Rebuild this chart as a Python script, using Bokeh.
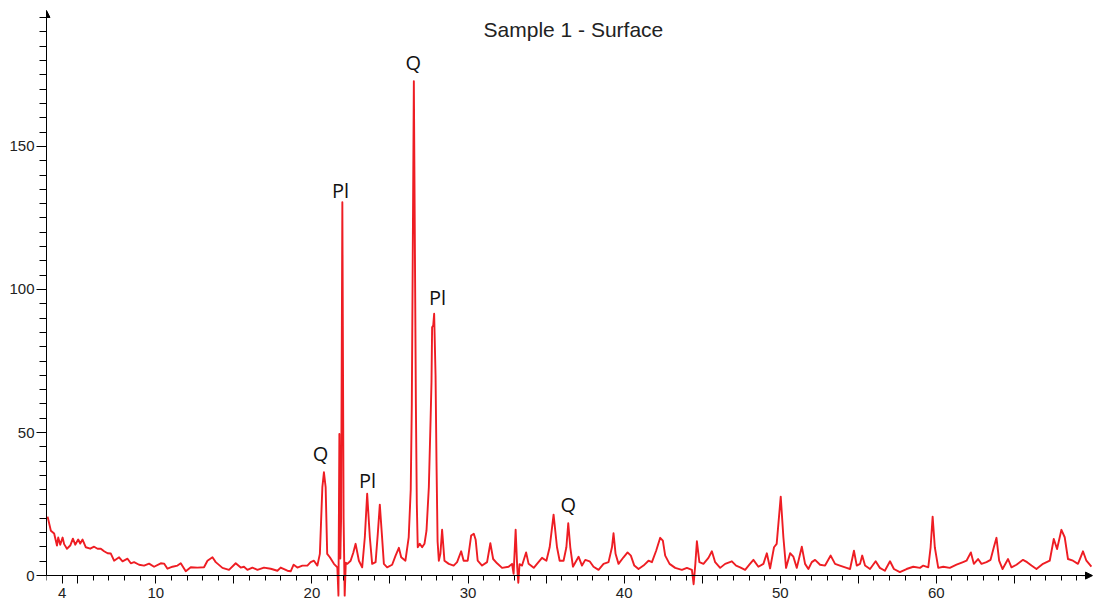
from bokeh.plotting import figure
from bokeh.models import (ColumnDataSource, Range1d, FixedTicker, Label, Arrow, NormalHead)
from bokeh.core.properties import value
from bokeh.embed import file_html
from bokeh.resources import INLINE

# ---- data ----
two_theta = [
    3.07, 3.28, 3.49, 3.67, 3.75, 3.88, 4.03, 4.13, 4.31, 4.52, 4.69, 4.84, 5.03, 5.16, 5.31,
    5.52, 5.80, 6.05, 6.27, 6.48, 6.69, 6.91, 7.12, 7.33, 7.65, 7.87, 8.19, 8.40, 8.61, 8.93,
    9.25, 9.57, 9.89, 10.32, 10.53, 10.75, 11.07, 11.39, 11.60, 11.92, 12.24, 12.67, 13.09,
    13.31, 13.63, 13.84, 14.27, 14.69, 15.12, 15.44, 15.65, 15.87, 16.19, 16.51, 16.93, 17.36,
    17.79, 18.00, 18.43, 18.64, 18.83, 19.07, 19.39, 19.71, 19.92, 20.13, 20.35, 20.51, 20.67,
    20.77, 20.88, 20.98, 21.15, 21.41, 21.63, 21.70, 21.76, 21.82, 21.87, 21.95, 22.03, 22.10,
    22.17, 22.27, 22.48, 22.65, 22.80, 23.01, 23.22, 23.39, 23.54, 23.71, 23.86, 24.08, 24.22,
    24.35, 24.48, 24.61, 24.82, 25.14, 25.36, 25.57, 25.72, 25.99, 26.20, 26.33, 26.40, 26.53,
    26.66, 26.72, 26.78, 26.91, 27.06, 27.21, 27.34, 27.49, 27.60, 27.66, 27.70, 27.77, 27.83,
    27.92, 27.98, 28.05, 28.13, 28.23, 28.34, 28.49, 28.77, 29.08, 29.30, 29.56, 29.72, 29.98,
    30.20, 30.37, 30.49, 30.62, 30.90, 31.22, 31.43, 31.61, 31.86, 32.18, 32.60, 32.82, 32.92,
    33.05, 33.15, 33.22, 33.30, 33.46, 33.72, 33.88, 34.21, 34.42, 34.74, 35.02, 35.23, 35.48,
    35.70, 35.87, 36.12, 36.30, 36.42, 36.55, 36.72, 37.08, 37.30, 37.51, 37.79, 38.04, 38.36,
    38.68, 39.00, 39.22, 39.32, 39.45, 39.64, 39.96, 40.22, 40.43, 40.65, 40.92, 41.24, 41.56,
    41.78, 42.05, 42.31, 42.48, 42.63, 42.91, 43.27, 43.70, 44.02, 44.34, 44.45, 44.56, 44.66,
    44.82, 45.08, 45.40, 45.62, 45.83, 46.15, 46.47, 46.90, 47.17, 47.43, 47.75, 48.02, 48.28,
    48.60, 48.92, 49.14, 49.35, 49.60, 49.77, 50.03, 50.20, 50.37, 50.63, 50.84, 51.06, 51.38,
    51.59, 51.80, 52.02, 52.23, 52.55, 52.87, 53.23, 53.51, 53.82, 54.25, 54.47, 54.72, 54.90,
    55.11, 55.25, 55.43, 55.75, 56.11, 56.38, 56.70, 57.03, 57.28, 57.66, 58.09, 58.52, 58.95,
    59.16, 59.48, 59.63, 59.76, 59.90, 60.12, 60.44, 60.86, 61.29, 61.71, 61.93, 62.21, 62.40,
    62.67, 62.89, 63.21, 63.47, 63.68, 63.85, 64.02, 64.24, 64.59, 64.81, 65.13, 65.55, 65.81,
    66.09, 66.41, 66.83, 67.26, 67.52, 67.73, 68.01, 68.22, 68.43, 68.75, 69.07, 69.39, 69.61,
    69.93,
]
intensity = [
    20.6, 15.7, 14.7, 10.5, 13.3, 10.8, 13.3, 11.0, 9.4, 10.5, 12.9, 10.8, 12.6, 11.2, 12.6,
    9.9, 9.4, 10.1, 9.4, 9.4, 8.5, 7.8, 7.7, 5.2, 6.4, 5.0, 5.9, 4.3, 4.7, 3.8,
    3.5, 4.2, 3.1, 4.3, 4.2, 2.4, 3.1, 3.5, 4.3, 1.5, 2.9, 2.8, 2.9,
    5.2, 6.4, 4.7, 2.7, 2.0, 4.3, 2.8, 3.1, 2.0, 2.8, 2.0, 2.8, 2.4,
    1.7, 2.8, 1.7, 1.5, 3.8, 2.8, 3.5, 3.5, 4.7, 5.2, 3.5, 7.6, 30.9,
    36.1, 30.9, 7.6, 6.4, 4.1, 2.9, -7.0, 49.5, 6.0, 20.0, 130.5, 20.0, -7.0,
    4.5, 4.1, 5.2, 8.0, 11.1, 5.2, 2.9, 13.4, 28.6, 13.4, 4.1, 4.7, 14.6,
    24.8, 14.6, 4.1, 2.9, 3.8, 7.0, 9.7, 6.4, 5.2, 13.4, 30.0, 60.0, 172.8,
    60.0, 25.0, 9.9, 11.1, 9.9, 11.1, 15.7, 30.9, 54.0, 67.6, 86.8, 87.4, 91.5,
    70.0, 40.0, 12.0, 5.2, 7.6, 16.0, 5.2, 4.1, 3.5, 4.7, 8.5, 5.2, 5.2,
    14.0, 14.6, 12.5, 5.2, 3.5, 4.7, 11.3, 5.8, 4.3, 2.7, 3.1, 4.1, 0.6,
    16.0, 3.0, -2.5, 4.0, 3.5, 8.1, 4.1, 2.7, 4.1, 6.2, 5.2, 9.9, 21.3,
    9.9, 5.2, 5.2, 9.9, 18.3, 9.9, 3.1, 6.6, 3.5, 5.5, 5.0, 3.1, 2.0,
    4.1, 4.7, 9.9, 14.8, 7.6, 4.1, 6.4, 8.1, 7.0, 3.5, 2.3, 3.5, 5.2,
    4.7, 8.7, 13.2, 12.2, 7.0, 4.1, 2.7, 2.0, 2.7, 2.0, -3.0, 4.0, 12.0,
    4.7, 4.1, 6.2, 8.5, 4.7, 2.7, 4.1, 5.0, 3.5, 2.9, 2.0, 3.8, 5.5,
    3.1, 4.1, 7.8, 2.5, 9.9, 11.1, 27.6, 13.4, 2.7, 7.8, 6.6, 2.7, 10.1,
    4.1, 2.3, 4.7, 5.5, 3.8, 3.5, 7.0, 4.1, 3.5, 2.7, 2.3, 8.7, 3.5,
    4.1, 7.0, 3.5, 2.3, 5.0, 2.7, 1.7, 5.0, 2.3, 1.2, 2.3, 3.1, 2.7,
    3.5, 2.9, 9.9, 20.6, 9.9, 2.7, 3.1, 2.7, 3.8, 4.7, 5.2, 8.1, 4.1,
    5.8, 4.1, 4.7, 5.5, 9.9, 13.2, 5.2, 2.3, 5.8, 2.9, 3.8, 5.5, 4.7,
    3.5, 2.3, 4.1, 5.2, 12.8, 9.3, 16.0, 13.4, 5.8, 5.2, 4.1, 8.5, 5.2,
    3.1,
]

peak_labels = ["Q", "Pl", "Pl", "Q", "Pl", "Q"]
peak_label_x = [26.50, 21.84, 28.04, 20.56, 23.56, 36.42]
peak_label_y = [179.4, 134.6, 97.2, 42.7, 33.2, 24.8]

x_tick_values = [4, 5, 10, 15, 20, 25, 30, 35, 40, 45, 50, 55, 60, 65]
x_tick_labels = ["4", "", "10", "", "20", "", "30", "", "40", "", "50", "", "60", ""]
y_tick_values = [0, 50, 100, 150]

title_text = "Sample 1 - Surface"

# ---- figure ----
p = figure(width=1095, height=609, output_backend="svg", toolbar_location=None,
           x_range=Range1d(3, 70), y_range=Range1d(-10.8, 197.5),
           min_border_left=46, min_border_right=3, min_border_top=10, min_border_bottom=3)
p.outline_line_color = None
p.xgrid.visible = False
p.ygrid.visible = False
p.background_fill_color = "white"
p.border_fill_color = "white"

src = ColumnDataSource(dict(x=two_theta, y=intensity))
p.line("x", "y", source=src, line_color="#EE1D23", line_width=1.9, line_join="round")

lab_src = ColumnDataSource(dict(x=peak_label_x, y=peak_label_y, t=peak_labels))
p.text("x", "y", text="t", source=lab_src, text_align="center", text_baseline="middle",
       text_font=value("Open Sans"), text_font_size="20px", text_color="#111111")

# x axis at y = 0
xa = p.xaxis[0]
xa.fixed_location = 0
xa.bounds = (3, 70)
xa.ticker = FixedTicker(ticks=x_tick_values, minor_ticks=list(range(3, 70)))
xa.major_label_overrides = {v: l for v, l in zip(x_tick_values, x_tick_labels)}
xa.major_tick_out = 8
xa.major_tick_in = 0
xa.minor_tick_out = 5
xa.minor_tick_in = 0
xa.major_label_standoff = 4
xa.major_label_text_font = "Liberation Sans"
xa.major_label_text_font_size = "15px"
xa.major_label_text_color = "#222222"
xa.axis_line_color = "black"

ya = p.yaxis[0]
ya.bounds = (0, 197.5)
ya.ticker = FixedTicker(ticks=y_tick_values, minor_ticks=list(range(0, 200, 5)))
ya.major_tick_out = 10
ya.major_tick_in = 0
ya.minor_tick_out = 7
ya.minor_tick_in = 0
ya.major_label_standoff = 2
ya.major_label_text_font = "Liberation Sans"
ya.major_label_text_font_size = "15px"
ya.major_label_text_color = "#222222"
ya.axis_line_color = "black"

# axis arrow heads
p.add_layout(Arrow(end=NormalHead(size=7, fill_color="black", line_color="black"),
                   x_start=3, y_start=192, x_end=3, y_end=197.5, line_color="black", line_width=1))
p.add_layout(Arrow(end=NormalHead(size=7, fill_color="black", line_color="black"),
                   x_start=69.3, y_start=0, x_end=70, y_end=0, line_color="black", line_width=1))

p.add_layout(Label(x=36.75, y=190.9, text=title_text, text_align="center", text_baseline="middle",
                   text_font="Liberation Sans", text_font_size="21px", text_color="#222222"))

open("out.html", "w").write(file_html(p, INLINE))
